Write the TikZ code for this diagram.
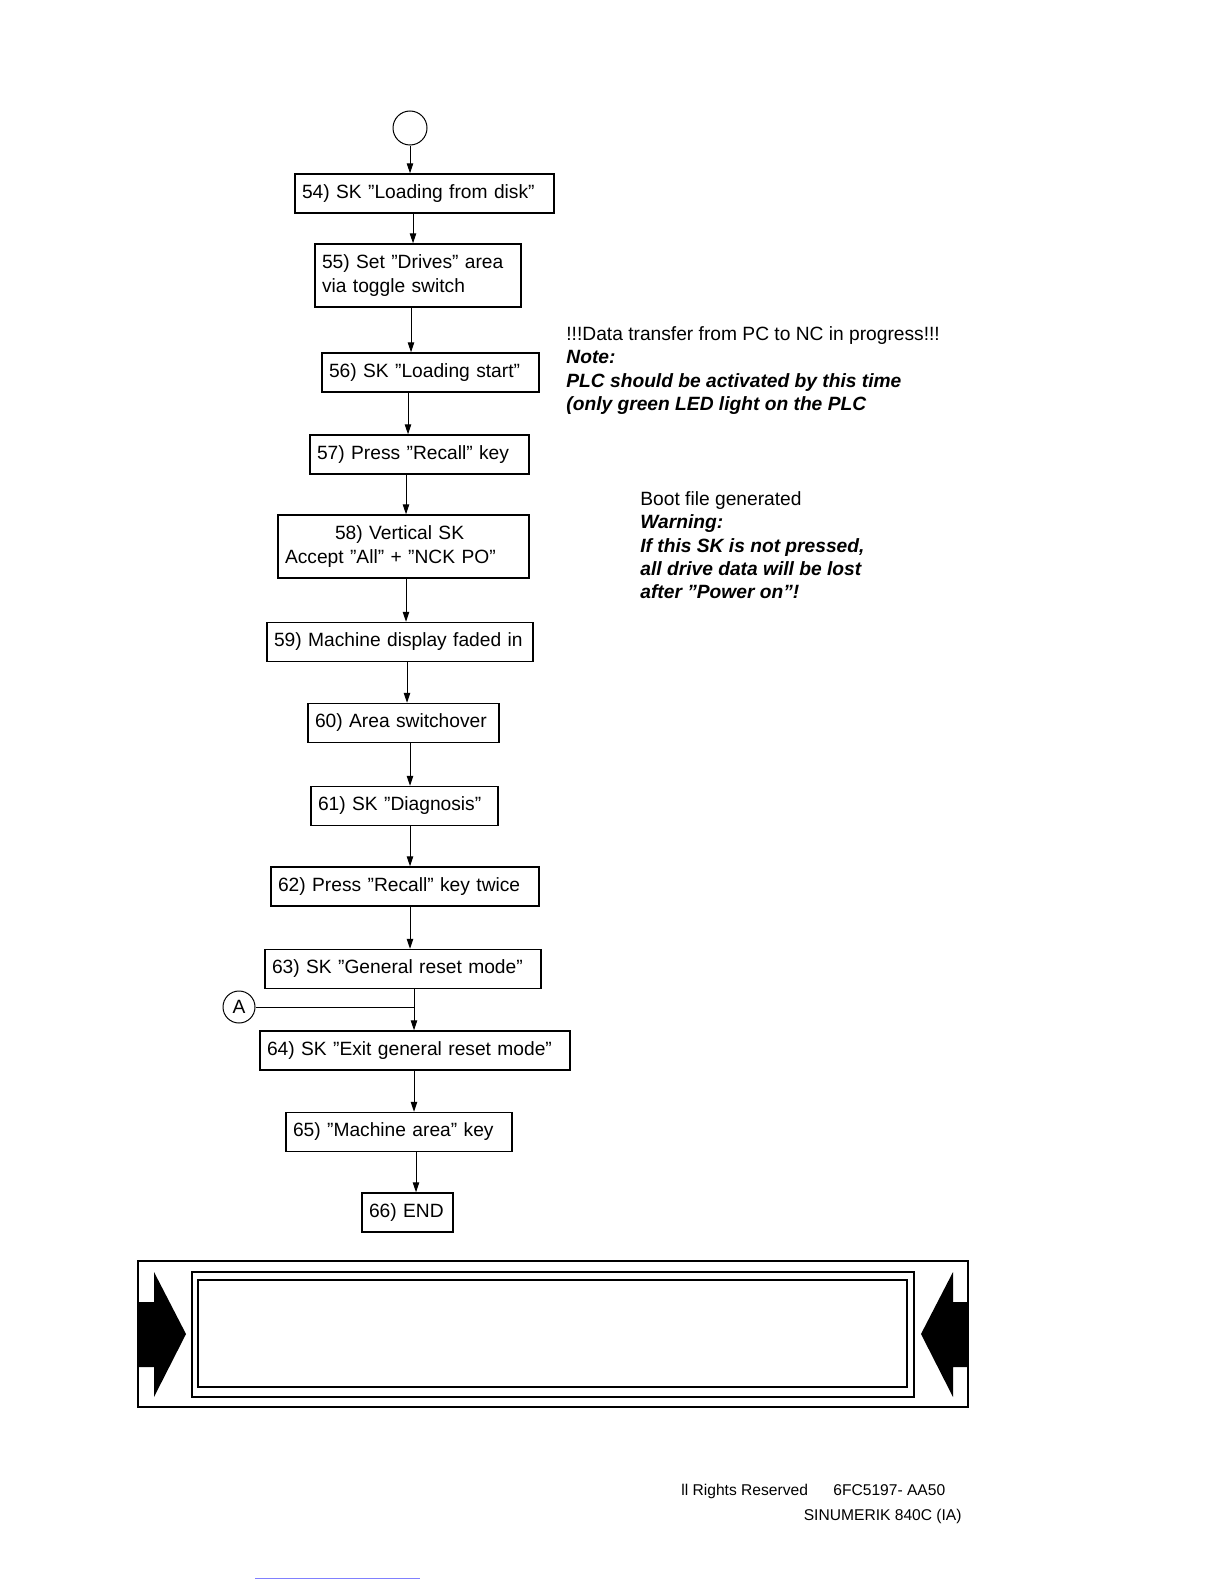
\documentclass[tikz,border=0pt]{standalone}
\usepackage{fontspec}
\setmainfont{Liberation Sans}
\usetikzlibrary{arrows.meta}

\tikzset{
  stepbox/.style={draw, line width=0.7pt, inner xsep=3.5pt, inner ysep=2pt,
    minimum height=19.5pt, align=left, font=\fontsize{9.6}{11.7}\selectfont},
  flow/.style={line width=0.5pt, -{Triangle[length=5pt,width=3.2pt]}},
  note/.style={anchor=north west, inner sep=0pt, align=left,
    font=\fontsize{9.6}{11.7}\selectfont},
  footer/.style={inner sep=0pt, font=\fontsize{7.8}{9}\selectfont},
}

\begin{document}
\begin{tikzpicture}[x=0.5pt, y=-0.5pt]
    \useasboundingbox (0,0) rectangle (1224,1584);

    % Start connector
    \node[draw, circle, line width=0.5pt, minimum size=17pt, inner sep=0pt] (top) at (410,128) {};

    % Steps
    \node[stepbox, text width=122.5pt] (s54) at (424.5,193.5) {54) SK ”Loading from disk”};
    \node[stepbox, text width=96pt, minimum height=31.5pt] (s55) at (418,275.5) {55) Set ”Drives” area\\via toggle switch};
    \node[stepbox, text width=101.5pt] (s56) at (430.5,372.5) {56) SK ”Loading start”};
    \node[stepbox, text width=102.5pt] (s57) at (419.5,454.5) {57) Press ”Recall” key};
    \node[stepbox, text width=118.5pt, minimum height=31.5pt] (s58) at (403.5,546.5) {\hspace*{25pt}58) Vertical SK\\Accept ”All” + ”NCK PO”};
    \node[stepbox, text width=126pt] (s59) at (400,642) {59) Machine display faded in};
    \node[stepbox, text width=88.5pt] (s60) at (403.5,723) {60) Area switchover};
    \node[stepbox, text width=86.5pt] (s61) at (404.5,806) {61) SK ”Diagnosis”};
    \node[stepbox, text width=127pt] (s62) at (405,886.5) {62) Press ”Recall” key twice};
    \node[stepbox, text width=131pt] (s63) at (403,969) {63) SK ”General reset mode”};
    \node[stepbox, text width=148pt] (s64) at (415,1050.5) {64) SK ”Exit general reset mode”};
    \node[stepbox, text width=106pt] (s65) at (399,1132) {65) ”Machine area” key};
    \node[stepbox, text width=38.5pt] (s66) at (407.5,1212.5) {66) END};

    % Off-page connector A
    \node[draw, circle, line width=0.5pt, minimum size=16pt, inner sep=0pt,
      font=\fontsize{9.6}{11.7}\selectfont] (conA) at (239,1007) {A};
    \coordinate (merge) at (414,1007);

    % Flow lines
    \draw[flow] (top.south) -- (top |- s54.north);
    \draw[flow] (s54.south -| 413,0) -- (s55.north -| 413,0);
    \draw[flow] (s55.south -| 411,0) -- (s56.north -| 411,0);
    \draw[flow] (s56.south -| 408,0) -- (s57.north -| 408,0);
    \draw[flow] (s57.south -| 406,0) -- (s58.north -| 406,0);
    \draw[flow] (s58.south -| 406,0) -- (s59.north -| 406,0);
    \draw[flow] (s59.south -| 407,0) -- (s60.north -| 407,0);
    \draw[flow] (s60.south -| 410,0) -- (s61.north -| 410,0);
    \draw[flow] (s61.south -| 410,0) -- (s62.north -| 410,0);
    \draw[flow] (s62.south -| 410,0) -- (s63.north -| 410,0);
    \draw[line width=0.5pt] (conA.east) -- (merge);
    \draw[flow] (s63.south -| merge) -- (s64.north -| merge);
    \draw[flow] (s64.south -| 414,0) -- (s65.north -| 414,0);
    \draw[flow] (s65.south -| 416,0) -- (s66.north -| 416,0);

    % Notes
    \node[note] (note1) at (566,326) {!!!Data transfer from PC to NC in progress!!!\\
      \bfseries\itshape Note:\\
      \bfseries\itshape PLC should be activated by this time\\
      \bfseries\itshape (only green LED light on the PLC};
    \node[note] (note2) at (640,491) {Boot file generated\\
      \bfseries\itshape Warning:\\
      \bfseries\itshape If this SK is not pressed,\\
      \bfseries\itshape all drive data will be lost\\
      \bfseries\itshape after ”Power on”!};

    % Banner
    \draw[line width=0.6pt] (138,1261) rectangle (968,1407);
    \draw[line width=1pt] (192,1272) rectangle (914,1397);
    \draw[line width=1pt] (198,1280) rectangle (907,1387);
    \fill (138,1302) -- (154,1302) -- (154,1272) -- (186,1334) -- (154,1397) -- (154,1367) -- (138,1367) -- cycle;
    \fill (968,1302) -- (953,1302) -- (953,1272) -- (921,1334) -- (953,1397) -- (953,1367) -- (968,1367) -- cycle;

    % Footer
    \node[footer, anchor=base west] (rights) at (681,1495) {ll Rights Reserved};
    \node[footer, anchor=base west] (docno) at (833,1495) {6FC5197- AA50};
    \node[footer, anchor=base east] (product) at (962,1520) {SINUMERIK 840C (IA)};
    \draw[blue!50, line width=0.4pt] (255,1578) -- (420,1578);
\end{tikzpicture}
\end{document}
